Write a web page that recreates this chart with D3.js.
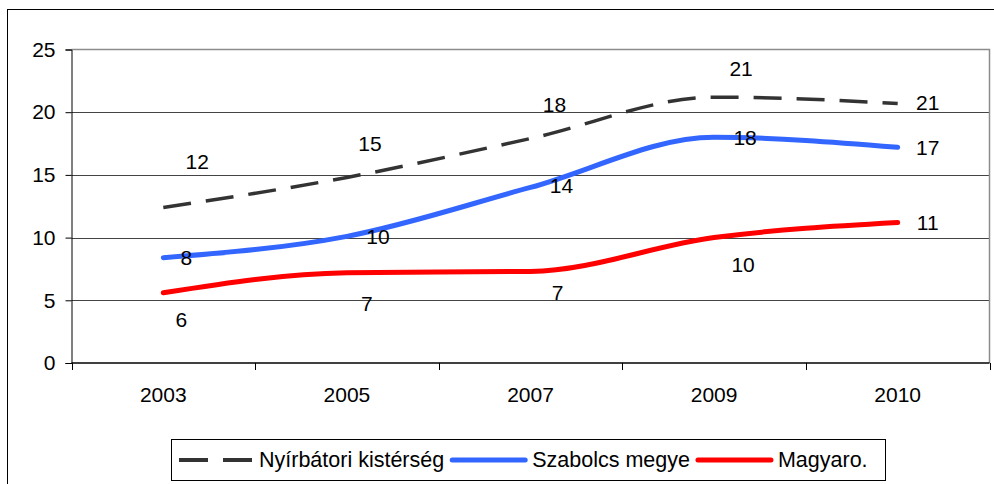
<!DOCTYPE html>
<html>
<head>
<meta charset="utf-8">
<script src="https://cdn.jsdelivr.net/npm/d3@7"></script>
<style>
  body { margin: 0; background: #fff; }
  text { font-family: "Liberation Sans", Arial, sans-serif; fill: #000; }
</style>
</head>
<body>
<div id="vis"></div>
<script>
const years = ["2003", "2005", "2007", "2009", "2010"];
const yTicks = [0, 5, 10, 15, 20, 25];
const seriesNames = ["Nyírbátori kistérség", "Szabolcs megye", "Magyaro."];
const nyirbator = [12.4, 14.8, 17.9, 21.2, 20.7];
const szabolcs = [8.4, 10.1, 14.0, 18.0, 17.2];
const magyaro = [5.6, 7.2, 7.3, 10.0, 11.2];
// hand-placed data labels (dx, dy from the point), like in the original sheet
const nyirLabelPos = [[34, -46], [23, -34], [24, -34], [27, -29], [30, -1]];
const szabLabelPos = [[23, 0], [31, 0], [31, -2], [31, 0], [30, 0]];
const magyLabelPos = [[18, 27], [20, 31], [27, 21], [29, 27], [30, 0]];

const W = 994, H = 484;
const plot = {left: 71.5, top: 49.5, right: 989.5, bottom: 363};
const colors = ["#333333", "#3366ff", "#ff0000"];
const widths = [3.5, 5, 5];

const svg = d3.select("#vis").append("svg")
    .attr("width", W).attr("height", H);

// outer chart frame (runs past the window on right/bottom)
svg.append("rect")
    .attr("x", 7.5).attr("y", 9.5)
    .attr("width", 1000).attr("height", 500)
    .attr("fill", "#fff").attr("stroke", "#000");

const x = d3.scaleBand().domain(years).range([plot.left, plot.right]);
const y = d3.scaleLinear().domain([0, 25]).range([plot.bottom, plot.top]);

// gridlines
svg.append("g").selectAll("line")
    .data(yTicks.slice(1, -1))
    .enter().append("line")
    .attr("x1", plot.left).attr("x2", plot.right)
    .attr("y1", d => Math.round(y(d)) + 0.5).attr("y2", d => Math.round(y(d)) + 0.5)
    .attr("stroke", "#444");

// plot frame top + right (gray)
svg.append("path")
    .attr("d", `M${plot.left},${plot.top}H${plot.right}V${plot.bottom}`)
    .attr("fill", "none").attr("stroke", "#8c8c8c").attr("stroke-width", 1.5);

// y axis
const yAxis = svg.append("g")
    .attr("transform", `translate(${plot.left},0)`)
    .call(d3.axisLeft(y).tickValues(yTicks).tickSize(6).tickPadding(10));
yAxis.select(".domain").attr("stroke", "#000");
yAxis.selectAll(".tick line").attr("stroke", "#000");
yAxis.selectAll("text").style("font-size", "21px")
    .style("font-family", '"Liberation Sans", Arial, sans-serif').attr("fill", "#000");

// x axis: ticks on band edges
const xAxisG = svg.append("g").attr("transform", `translate(0,${plot.bottom})`);
xAxisG.append("line")
    .attr("x1", plot.left).attr("x2", plot.right)
    .attr("stroke", "#000").attr("stroke-width", 1.5);
const edges = years.map(d => x(d)).concat([x(years[years.length - 1]) + x.bandwidth()]);
xAxisG.selectAll(".edge").data(edges).enter().append("line")
    .attr("class", "edge")
    .attr("x1", d => Math.round(d) + 0.5).attr("x2", d => Math.round(d) + 0.5)
    .attr("y1", 0).attr("y2", 7)
    .attr("stroke", "#000");
xAxisG.selectAll(".lbl").data(years).enter().append("text")
    .attr("class", "lbl")
    .attr("x", d => x(d) + x.bandwidth() / 2)
    .attr("y", 39)
    .attr("text-anchor", "middle")
    .style("font-size", "21px")
    .text(d => d);

// lines
const series = [nyirbator, szabolcs, magyaro];
const labelPos = [nyirLabelPos, szabLabelPos, magyLabelPos];
const line = d3.line()
    .x((d, i) => x(years[i]) + x.bandwidth() / 2)
    .y(d => y(d))
    .curve(d3.curveMonotoneX);

series.forEach((vals, s) => {
    svg.append("path")
        .datum(vals)
        .attr("d", line)
        .attr("fill", "none")
        .attr("stroke", colors[s])
        .attr("stroke-width", widths[s])
        .attr("stroke-linecap", s === 0 ? "butt" : "round")
        .attr("stroke-dasharray", s === 0 ? "28,15" : null);
});

// data labels
series.forEach((vals, s) => {
    svg.append("g").selectAll("text")
        .data(vals)
        .enter().append("text")
        .attr("x", (d, i) => x(years[i]) + x.bandwidth() / 2 + labelPos[s][i][0])
        .attr("y", (d, i) => y(d) + labelPos[s][i][1])
        .attr("text-anchor", "middle")
        .attr("dy", "0.35em")
        .style("font-size", "21px")
        .text(d => Math.round(d));
});

// legend
const legend = svg.append("g");
legend.append("rect")
    .attr("x", 171.5).attr("y", 439.5)
    .attr("width", 714).attr("height", 41)
    .attr("fill", "#fff").attr("stroke", "#000");

let lx = 179;
seriesNames.forEach((name, s) => {
    legend.append("line")
        .attr("x1", lx).attr("x2", lx + 73)
        .attr("y1", 460).attr("y2", 460)
        .attr("stroke", colors[s])
        .attr("stroke-width", s === 0 ? 4 : 5)
        .attr("stroke-linecap", s === 0 ? "butt" : "round")
        .attr("stroke-dasharray", s === 0 ? "29,15" : null);
    const t = legend.append("text")
        .attr("x", lx + 80)
        .attr("y", 467)
        .style("font-size", "21.5px")
        .text(name);
    lx += 80 + t.node().getComputedTextLength() + 8;
});
</script>
</body>
</html>
